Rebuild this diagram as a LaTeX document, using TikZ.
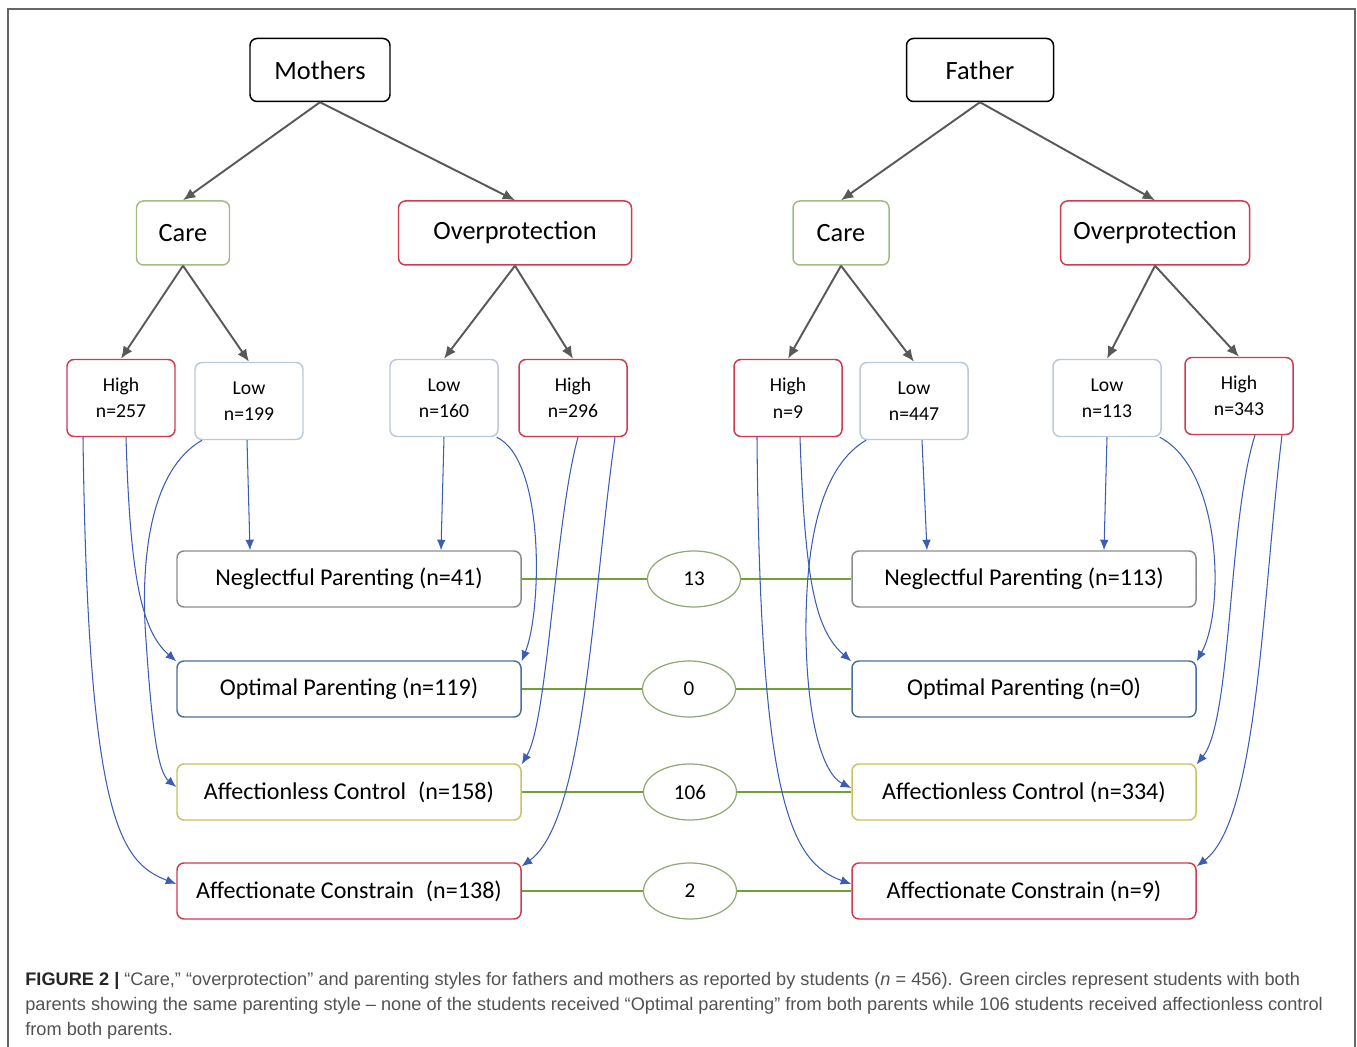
\documentclass[tikz,border=0pt]{standalone}
\usepackage{fontspec}
\setmainfont{Carlito}
\newfontfamily\capfont{Liberation Sans}
\usepackage{xcolor}
\usetikzlibrary{arrows.meta,shapes}
\newlength\pu
\setlength\pu{0.02cm}
\definecolor{hired}{HTML}{CF3A50}
\definecolor{lowblue}{HTML}{B9C9DA}
\definecolor{caregreen}{HTML}{A3BA86}
\definecolor{optblue}{HTML}{4C6F98}
\definecolor{ctrlyel}{HTML}{C9C263}
\definecolor{linkgreen}{HTML}{6FA233}
\definecolor{ovalgreen}{HTML}{8FA878}
\definecolor{flowblue}{HTML}{3B5DB5}

\begin{document}
\begin{tikzpicture}[x=0.02cm, y=-0.02cm,
    box/.style={draw, rounded corners=7\pu, line width=0.85pt, align=center, inner sep=0pt, text=black},
    parent/.style={box, draw=black, minimum height=63\pu, font=\fontsize{15}{17}\selectfont},
    dimbox/.style={box, minimum height=64\pu, font=\fontsize{15}{17}\selectfont},
    level/.style={box, minimum width=108\pu, minimum height=77\pu, font=\fontsize{11.2}{15}\selectfont},
    pstyle/.style={box, minimum width=344\pu, minimum height=56\pu, font=\fontsize{13.7}{15}\selectfont},
    both/.style={ellipse, draw=ovalgreen, line width=0.7pt, minimum width=93\pu, minimum height=56\pu, inner sep=0pt, font=\fontsize{12}{13}\selectfont},
    tree/.style={draw=black!65, line width=1.1pt, -{Latex[length=7pt,width=6pt]}},
    flow/.style={draw=flowblue, line width=0.6pt, -{Latex[length=6pt,width=5pt]}},
    link/.style={draw=linkgreen, line width=1.2pt}]
\useasboundingbox (0,0) rectangle (1357,1047);
\draw[black!60, line width=1pt] (8,1047) -- (8,9) -- (1355,9) -- (1355,1047);

\node[parent, minimum width=140\pu] (moth) at (320,70) {Mothers};
\node[parent, minimum width=147\pu] (fath) at (980,70) {Father};

\node[dimbox, draw=caregreen, minimum width=93\pu] (mcare) at (183,233) {Care};
\node[dimbox, draw=hired, minimum width=233\pu] (mover) at (515,233) {Overprotection};
\node[dimbox, draw=caregreen, minimum width=96\pu] (fcare) at (841,233) {Care};
\node[dimbox, draw=hired, minimum width=189\pu] (fover) at (1155,233) {Overprotection};

\node[level, draw=hired] (mch) at (121,398) {High\\n=257};
\node[level, draw=lowblue] (mcl) at (249,401) {Low\\n=199};
\node[level, draw=lowblue] (mol) at (444,398) {Low\\n=160};
\node[level, draw=hired] (moh) at (573,398) {High\\n=296};
\node[level, draw=hired] (fch) at (788,398) {High\\n=9};
\node[level, draw=lowblue] (fcl) at (914,401) {Low\\n=447};
\node[level, draw=lowblue] (fol) at (1107,398) {Low\\n=113};
\node[level, draw=hired] (foh) at (1239,396) {High\\n=343};

\node[pstyle, draw=black!45] (mng) at (349,579) {Neglectful Parenting (n=41)};
\node[pstyle, draw=optblue] (mop) at (349,689) {Optimal Parenting (n=119)};
\node[pstyle, draw=ctrlyel] (mal) at (349,792) {Affectionless Control\enspace(n=158)};
\node[pstyle, draw=hired] (mac) at (349,891) {Affectionate Constrain\enspace(n=138)};
\node[pstyle, draw=black!45] (fng) at (1024,579) {Neglectful Parenting (n=113)};
\node[pstyle, draw=optblue] (fop) at (1024,689) {Optimal Parenting (n=0)};
\node[pstyle, draw=ctrlyel] (fal) at (1024,792) {Affectionless Control (n=334)};
\node[pstyle, draw=hired] (fac) at (1024,891) {Affectionate Constrain (n=9)};

\node[both] (bng) at (694,579) {13};
\node[both] (bop) at (689,689) {0};
\node[both] (bal) at (690,792) {106};
\node[both] (bac) at (690,891) {2};

\foreach \a/\b in {moth/mcare,moth/mover,mcare/mch,mcare/mcl,mover/mol,mover/moh,
                   fath/fcare,fath/fover,fcare/fch,fcare/fcl,fover/fol,fover/foh}
    \draw[tree] (\a.south) -- (\b.north);

\foreach \s in {ng,op,al,ac}
    \draw[link] (m\s.east) -- (b\s.west) (b\s.east) -- (f\s.west);

\draw[flow] ([xshift=-38\pu]mch.south) .. controls (88,820) and (120,862) .. ([yshift=7\pu]mac.west);
\draw[flow] ([xshift=5\pu]mch.south) .. controls (130,570) and (140,630) .. ([yshift=-1\pu]mop.north west);
\draw[flow] ([xshift=-47\pu]mcl.south) .. controls (150,470) and (140,560) .. (146,640) .. controls (152,730) and (158,772) .. ([yshift=5\pu]mal.west);
\draw[flow] ([xshift=-2\pu]mcl.south) -- ([xshift=-99\pu]mng.north);
\draw[flow] (mol.south) -- ([xshift=92\pu]mng.north);
\draw[flow] ([xshift=-2\pu]mol.south east) .. controls (545,460) and (542,610) .. ([yshift=-1\pu]mop.north east);
\draw[flow] ([xshift=5\pu]moh.south) .. controls (555,520) and (548,720) .. ([yshift=-1\pu]mal.north east);
\draw[flow] ([xshift=42\pu]moh.south) .. controls (592,600) and (585,820) .. ([yshift=-4\pu]mac.north east);

\draw[flow] ([xshift=-31\pu]fch.south) .. controls (760,800) and (790,862) .. ([yshift=7\pu]fac.west);
\draw[flow] ([xshift=12\pu]fch.south) .. controls (805,580) and (815,630) .. ([yshift=-1\pu]fop.north west);
\draw[flow] ([xshift=-48\pu]fcl.south) .. controls (815,470) and (805,560) .. (806,640) .. controls (808,730) and (825,775) .. ([yshift=4\pu]fal.west);
\draw[flow] ([xshift=8\pu]fcl.south) -- ([xshift=-97\pu]fng.north);
\draw[flow] (fol.south) -- ([xshift=80\pu]fng.north);
\draw[flow] ([xshift=-2\pu]fol.south east) .. controls (1222,470) and (1225,610) .. ([yshift=-1\pu]fop.north east);
\draw[flow] ([xshift=16\pu]foh.south) .. controls (1228,520) and (1232,720) .. ([yshift=-1\pu]fal.north east);
\draw[flow] ([xshift=43\pu]foh.south) .. controls (1262,600) and (1258,820) .. ([yshift=-4\pu]fac.north east);

\node[anchor=north west, align=left, inner sep=0pt, text=black!68, font=\capfont\fontsize{10.35}{14.2}\selectfont] (cap) at (25,972)
    {\textcolor{black!85}{\textbf{FIGURE 2 |}} “Care,” “overprotection” and parenting styles for fathers and mothers as reported by students (\textit{n} = 456). Green circles represent students with both\\
     parents showing the same parenting style – none of the students received “Optimal parenting” from both parents while 106 students received affectionless control\\
     from both parents.};
\end{tikzpicture}
\end{document}
